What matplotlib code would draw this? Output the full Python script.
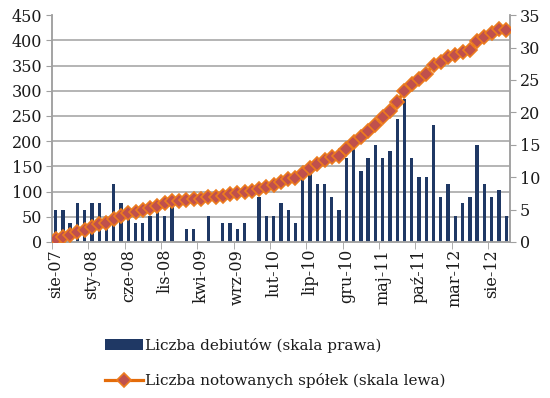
import numpy as np
import matplotlib.pyplot as plt
from matplotlib.ticker import FixedLocator

plt.rcParams['font.family'] = ['DejaVu Serif']

# liczba debiutow w miesiacu (skala prawa), sie-07 .. paz-12
debiuty = [5, 5, 3, 6, 5, 6, 6, 2, 9, 6,
           4, 3, 3, 4, 5, 4, 6, 0, 2, 2,
           0, 4, 0, 3, 3, 2, 3, 0, 7, 4,
           4, 6, 5, 3, 10, 11, 9, 9, 7, 5,
           13, 15, 11, 13, 15, 13, 14, 19, 22, 13,
           10, 10, 18, 7, 9, 4, 6, 7, 15, 9,
           7, 8, 4]

# liczba notowanych spolek (skala lewa)
notowane = [5, 10, 13, 19, 24, 30, 35, 38, 46, 52,
            57, 60, 63, 67, 72, 77, 81, 82, 84, 85,
            86, 89, 90, 92, 95, 97, 99, 101, 105, 109,
            113, 119, 124, 126, 136, 146, 155, 163, 168, 171,
            184, 198, 208, 220, 232, 247, 260, 278, 300, 313,
            324, 334, 352, 358, 366, 370, 376, 381, 398, 406,
            414, 423, 420]

tick_labels = ['sie-07', 'sty-08', 'cze-08', 'lis-08', 'kwi-09', 'wrz-09',
               'lut-10', 'lip-10', 'gru-10', 'maj-11', 'paź-11', 'mar-12',
               'sie-12']

grid_col = '#a0a0a0'
text_col = '#1a1a1a'
fs = 11.5

fig = plt.figure(figsize=(5.5, 3.98), dpi=100)
ax2 = fig.add_axes([0.0945, 0.392, 0.8325, 0.57])
ax = ax2.twinx()
ax.yaxis.tick_left()
ax.yaxis.set_label_position('left')
ax2.yaxis.tick_right()

x = np.arange(len(notowane))

bars = ax2.bar(x, debiuty, width=0.46, color='#1f3864', zorder=2)
ax2.set_ylim(0, 35)
ax2.set_yticks(np.arange(0, 36, 5))
# siatka zgodna ze skala lewa
ax2.yaxis.set_minor_locator(FixedLocator(np.arange(0, 451, 50) * 35 / 450))
ax2.grid(which='minor', axis='y', color=grid_col, lw=1.1)
ax2.set_axisbelow(True)
ax2.tick_params(axis='y', which='minor', length=0)

line, = ax.plot(x, notowane, color='#e46c0a', lw=2.3, marker='D', ms=6.8,
                mfc='#c0504d', mec='#ec7b1e', mew=1.2, zorder=3)
ax.set_ylim(0, 450)
ax.set_yticks(np.arange(0, 451, 50))

ax.set_xlim(-0.5, len(notowane) - 0.5)
ax2.set_xticks(np.arange(0, len(notowane), 5))
ax2.set_xticklabels(tick_labels, rotation=90)
ax2.xaxis.set_minor_locator(FixedLocator(np.arange(-0.5, len(notowane), 5)))
ax2.tick_params(axis='x', which='major', length=0, pad=5)
ax2.tick_params(axis='x', which='minor', length=5, color=grid_col)

for a in (ax, ax2):
    for s in a.spines.values():
        s.set_color(grid_col)
        s.set_linewidth(1.1)
    a.spines['top'].set_visible(False)
    a.tick_params(axis='y', which='major', length=4, color=grid_col,
                  labelsize=fs, labelcolor=text_col, pad=3)
    a.tick_params(axis='x', labelsize=fs, labelcolor=text_col)

fig.legend([bars, line],
           ['Liczba debiutów (skala prawa)',
            'Liczba notowanych spółek (skala lewa)'],
           loc='lower center', bbox_to_anchor=(0.5, -0.01), frameon=False,
           fontsize=11, handlelength=2.5, handletextpad=0.15,
           labelspacing=1.35, labelcolor=text_col)

fig.savefig('out.png', dpi=100)
